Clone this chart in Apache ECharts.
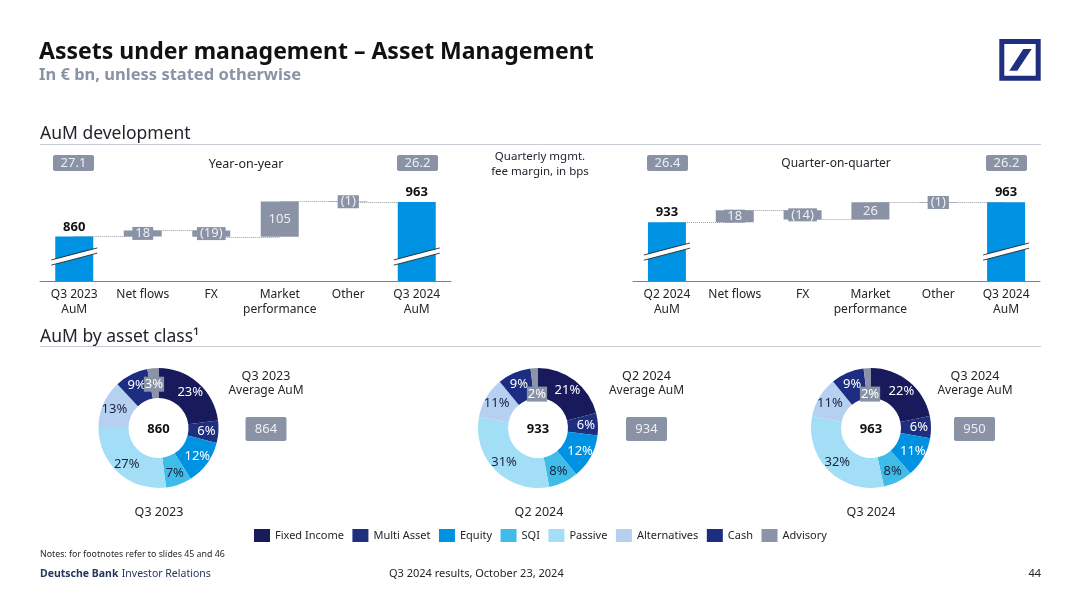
<!DOCTYPE html>
<html>
<head>
<meta charset="utf-8">
<style>html,body{margin:0;padding:0;background:#fff}#root{width:1080px;height:607px}</style>
<script src="https://cdn.jsdelivr.net/npm/echarts@6/dist/echarts.min.js"></script>
</head>
<body>
<div id="root"></div>
<script>
const FONT = '"Noto Sans", sans-serif';

const yoyCategories = ['Q3 2023\nAuM', 'Net flows', 'FX', 'Market\nperformance', 'Other', 'Q3 2024\nAuM'];
const yoyStart = 860;
const yoyEnd = 963;
const yoyDeltas = [18, -19, 105, -1];

const qoqCategories = ['Q2 2024\nAuM', 'Net flows', 'FX', 'Market\nperformance', 'Other', 'Q3 2024\nAuM'];
const qoqStart = 933;
const qoqEnd = 963;
const qoqDeltas = [18, -14, 26, -1];

const assetClasses = ['Fixed Income', 'Multi Asset', 'Equity', 'SQI', 'Passive', 'Alternatives', 'Cash', 'Advisory'];
const classColors = ['#191a5c', '#1f2f80', '#0092e2', '#3fbce8', '#a2def6', '#b5d0f1', '#1c2d82', '#8a93a8'];
const classLabelColors = ['#fff', '#fff', '#fff', '#1c2340', '#1c2340', '#1c2340', '#fff', '#fff'];
const mixQ32023 = [23, 6, 12, 7, 27, 13, 9, 3];
const mixQ22024 = [21, 6, 12, 8, 31, 11, 9, 2];
const mixQ32024 = [22, 6, 11, 8, 32, 11, 9, 2];

const BLUE = '#0092e2';
const GREY = '#8a93a6';
const INK = '#22252b';

let myChart = echarts.init(document.getElementById('root'));

function waterfall(index, stack, start, end, deltas, breakLevel) {
  let level = start;
  let bases = ['-'];
  let sizes = ['-'];
  let levels = [start];
  deltas.forEach(d => {
    bases.push(Math.min(level, level + d));
    sizes.push(Math.abs(d));
    level += d;
    levels.push(level);
  });
  bases.push('-');
  sizes.push('-');
  levels.push(end);

  let links = [];
  for (let i = 0; i < levels.length - 1; i++) {
    // the source slide rounds, the last link has to land on the closing total
    let y = i === levels.length - 2 ? end : levels[i];
    links.push([{xAxis: i, yAxis: y}, {xAxis: i + 1, yAxis: y}]);
  }

  return [
    {
      type: 'bar', xAxisIndex: index, yAxisIndex: index, stack: stack, barWidth: 38, z: 1,
      itemStyle: {color: 'transparent'},
      data: bases,
      silent: true,
      markLine: {
        silent: true, symbol: 'none', z: 1, animation: false,
        label: {show: false},
        lineStyle: {color: '#9a9da3', type: 'dotted', width: 1},
        data: links
      }
    },
    {
      type: 'bar', xAxisIndex: index, yAxisIndex: index, stack: stack, barWidth: 38, z: 3,
      itemStyle: {color: GREY},
      label: {
        show: true, position: 'inside', color: '#eceef2', fontFamily: FONT, fontSize: 13,
        backgroundColor: GREY, padding: [0, 3],
        formatter: p => deltas[p.dataIndex - 1] < 0 ? '(' + p.value + ')' : '' + p.value
      },
      data: sizes
    },
    {
      type: 'bar', xAxisIndex: index, yAxisIndex: index, stack: stack, barWidth: 38, z: 3,
      itemStyle: {color: BLUE},
      label: {show: true, position: 'top', distance: 3, color: '#111', fontFamily: FONT, fontSize: 13, fontWeight: 'bold'},
      data: [start, '-', '-', '-', '-', end]
    },
    {
      type: 'custom', xAxisIndex: index, yAxisIndex: index, z: 4, silent: true,
      encode: {x: 0, y: 1},
      data: [[0, breakLevel], [5, breakLevel]],
      renderItem: (params, api) => {
        const c = api.coord([api.value(0), api.value(1)]);
        const w = 23, rise = 6, gap = 2.6;
        return {
          type: 'group',
          children: [
            {type: 'polygon', shape: {points: [[c[0] - w, c[1] + rise - gap], [c[0] + w, c[1] - rise - gap], [c[0] + w, c[1] - rise + gap], [c[0] - w, c[1] + rise + gap]]}, style: {fill: '#fff'}},
            {type: 'line', shape: {x1: c[0] - w, y1: c[1] + rise - gap, x2: c[0] + w, y2: c[1] - rise - gap}, style: {stroke: '#111', lineWidth: 0.8}},
            {type: 'line', shape: {x1: c[0] - w, y1: c[1] + rise + gap, x2: c[0] + w, y2: c[1] - rise + gap}, style: {stroke: '#111', lineWidth: 0.8}}
          ]
        };
      }
    }
  ];
}

function donut(name, cx, values) {
  return {
    type: 'pie', name: name, center: [cx, 428], radius: [30, 60], startAngle: 90, clockwise: true,
    animation: false, silent: true,
    label: {show: true, position: 'inside', fontFamily: FONT, fontSize: 13, formatter: '{c}%'},
    labelLine: {show: false},
    labelLayout: p => {
      // the advisory tags sit lower than the slice, towards the hole
      if (p.dataIndex === 7) {
        return values[7] === 2 ? {dy: 14, dx: 2} : {dy: 4};
      }
      return {};
    },
    data: assetClasses.map((c, i) => ({
      name: c,
      value: values[i],
      itemStyle: {color: classColors[i]},
      label: i === 7
        ? {color: classLabelColors[i], backgroundColor: GREY, padding: [1, 1]}
        : {color: classLabelColors[i]}
    }))
  };
}

function text(x, y, str, opts) {
  return {
    type: 'text', x: x, y: y + 1, z: 10, silent: true,
    style: Object.assign({text: str, fontFamily: FONT, fontSize: 12, fill: INK, align: 'left', verticalAlign: 'middle'}, opts)
  };
}

function badge(x, y, w, h, str) {
  return [
    {type: 'rect', z: 9, silent: true, shape: {x: x, y: y, width: w, height: h, r: 2}, style: {fill: GREY}},
    text(x + w / 2, y + h / 2 - 0.5, str, {align: 'center', fill: '#eceef2', fontSize: 13})
  ];
}

function rule(y) {
  return {type: 'line', z: 1, silent: true, shape: {x1: 40, y1: y, x2: 1041, y2: y}, style: {stroke: '#c8ccd4', lineWidth: 1}};
}

const page = [
  text(39, 51, 'Assets under management – Asset Management', {fontSize: 23, fontWeight: 'bold', fill: '#111'}),
  text(39, 74, 'In € bn, unless stated otherwise', {fontSize: 16.5, fontWeight: 'bold', fill: '#8a93a6'}),
  {type: 'rect', z: 9, silent: true, shape: {x: 1001.8, y: 41.5, width: 36.4, height: 36.7}, style: {fill: '#fff', stroke: '#1f2f80', lineWidth: 5}},
  {type: 'polygon', z: 9, silent: true, shape: {points: [[1009.3, 70.7], [1023.3, 49], [1031.7, 49], [1017.3, 70.7]]}, style: {fill: '#1f2f80'}},

  text(40, 133, 'AuM development', {fontSize: 17.5}),
  rule(144.5),
  text(40, 336, 'AuM by asset class¹', {fontSize: 17.5}),
  rule(346.5),

  text(246, 163, 'Year-on-year', {align: 'center', fontSize: 12.5}),
  text(540, 156, 'Quarterly mgmt.', {align: 'center', fontSize: 11.5}),
  text(540, 171, 'fee margin, in bps', {align: 'center', fontSize: 11.5}),
  text(836, 163, 'Quarter-on-quarter', {align: 'center'}),
  ...badge(53, 155, 41, 16, '27.1'),
  ...badge(397, 155, 41, 16, '26.2'),
  ...badge(647, 155, 41, 16, '26.4'),
  ...badge(986, 155, 41, 16, '26.2'),

  text(158.5, 428, '860', {align: 'center', fontWeight: 'bold', fill: '#111', fontSize: 13}),
  text(538, 428, '933', {align: 'center', fontWeight: 'bold', fill: '#111', fontSize: 13}),
  text(871, 428, '963', {align: 'center', fontWeight: 'bold', fill: '#111', fontSize: 13}),
  text(159, 511, 'Q3 2023', {align: 'center', fontSize: 12.5}),
  text(539, 511, 'Q2 2024', {align: 'center', fontSize: 12.5}),
  text(871, 511, 'Q3 2024', {align: 'center', fontSize: 12.5}),

  text(266, 375, 'Q3 2023', {align: 'center', fontSize: 12.5}),
  text(266, 390, 'Average AuM', {align: 'center'}),
  text(646.5, 375, 'Q2 2024', {align: 'center', fontSize: 12.5}),
  text(646.5, 390, 'Average AuM', {align: 'center'}),
  text(975, 375, 'Q3 2024', {align: 'center', fontSize: 12.5}),
  text(975, 390, 'Average AuM', {align: 'center'}),
  ...badge(245.5, 417, 41, 24, '864'),
  ...badge(626, 417, 41, 24, '934'),
  ...badge(954, 417, 41, 24, '950'),

  text(40, 553, 'Notes: for footnotes refer to slides 45 and 46', {fontSize: 8.8}),
  {
    type: 'text', x: 40, y: 574, z: 10, silent: true,
    style: {
      text: '{b|Deutsche Bank} {n|Investor Relations}', verticalAlign: 'middle',
      rich: {
        b: {fontFamily: FONT, fontSize: 10.5, fontWeight: 'bold', fill: '#26345f', color: '#26345f'},
        n: {fontFamily: FONT, fontSize: 10.5, fill: '#26345f', color: '#26345f'}
      }
    }
  },
  text(389, 573, 'Q3 2024 results, October 23, 2024', {fontSize: 11}),
  text(1041, 573, '44', {fontSize: 11, align: 'right'})
];

const xAxisBase = {
  type: 'category', axisTick: {show: false},
  axisLine: {lineStyle: {color: '#7d8087', width: 1}},
  axisLabel: {color: INK, fontFamily: FONT, fontSize: 12, lineHeight: 15, margin: 6, interval: 0}
};

let option = {
  animation: false,
  backgroundColor: '#fff',
  grid: [
    {left: 40, width: 411, top: 150, height: 131},
    {left: 633, width: 407, top: 150, height: 131}
  ],
  xAxis: [
    Object.assign({gridIndex: 0, data: yoyCategories}, xAxisBase),
    Object.assign({gridIndex: 1, data: qoqCategories}, xAxisBase)
  ],
  // both value axes are cut, as the slide's break marks show
  yAxis: [
    {type: 'value', gridIndex: 0, min: 727, max: 1118, show: false},
    {type: 'value', gridIndex: 1, min: 845, max: 1041, show: false}
  ],
  legend: {
    left: 249, top: 524, icon: 'rect', itemWidth: 16, itemHeight: 13, itemGap: 8.5, selectedMode: false,
    textStyle: {color: INK, fontFamily: FONT, fontSize: 11},
    data: assetClasses
  },
  series: [
    ...waterfall(0, 'yoy', yoyStart, yoyEnd, yoyDeltas, 800),
    ...waterfall(1, 'qoq', qoqStart, qoqEnd, qoqDeltas, 889),
    donut('Q3 2023', 158.5, mixQ32023),
    donut('Q2 2024', 538, mixQ22024),
    donut('Q3 2024', 871, mixQ32024)
  ],
  graphic: page
};

myChart.setOption(option);
</script>
</body>
</html>
